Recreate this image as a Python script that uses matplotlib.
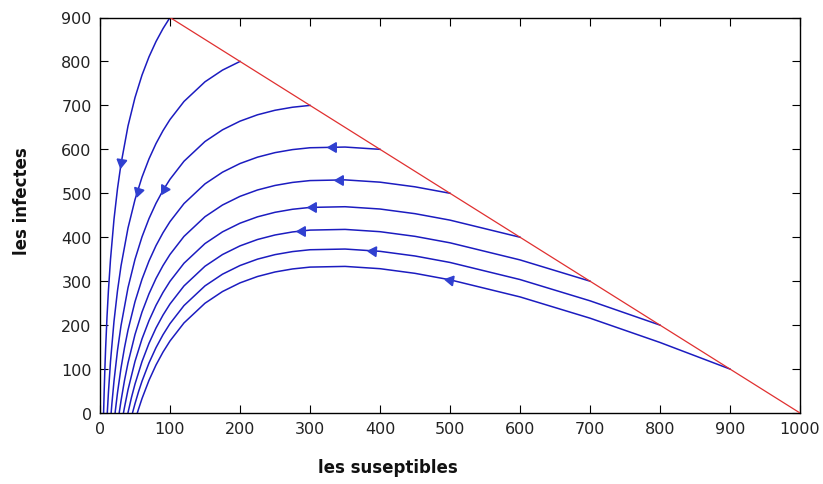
import matplotlib
matplotlib.use("Agg")
import matplotlib.pyplot as plt

# Trajectories (susceptibles S, infectes I)
S_900 = [900, 800, 700, 600, 500, 450, 400, 350, 300, 275, 250, 225, 200, 175, 150, 120, 100, 90, 80, 70, 60, 55, 53.3]
I_900 = [100, 160.5, 215.8, 264.2, 303.1, 317.8, 328.4, 333.6, 332.0, 327.8, 320.9, 310.6, 296.1, 276.4, 249.8, 205.0, 163.9, 138.6, 109.2, 74.4, 32.8, 8.7, 0]

S_800 = [800, 700, 600, 500, 450, 400, 350, 300, 275, 250, 225, 200, 175, 150, 120, 100, 90, 80, 70, 60, 55, 50, 46.4]
I_800 = [200, 255.3, 303.7, 342.6, 357.3, 367.9, 373.1, 371.5, 367.3, 360.4, 350.1, 335.6, 315.9, 289.3, 244.5, 203.4, 178.1, 148.7, 113.9, 72.3, 48.2, 21.2, 0]

S_700 = [700, 600, 500, 450, 400, 350, 300, 275, 250, 225, 200, 175, 150, 120, 100, 90, 80, 70, 60, 50, 45, 39.9]
I_700 = [300, 348.4, 387.3, 402.0, 412.6, 417.8, 416.2, 412.0, 405.1, 394.8, 380.3, 360.6, 334.0, 289.2, 248.1, 222.8, 193.4, 158.6, 117.0, 65.9, 35.6, 0]

S_600 = [600, 500, 450, 400, 350, 300, 275, 250, 225, 200, 175, 150, 120, 100, 90, 80, 70, 60, 50, 40, 35, 33.5]
I_600 = [400, 438.9, 453.6, 464.2, 469.4, 467.8, 463.6, 456.7, 446.4, 431.9, 412.2, 385.6, 340.8, 299.7, 274.4, 245.0, 210.2, 168.6, 117.5, 52.8, 13.0, 0]

S_500 = [500, 450, 400, 350, 300, 275, 250, 225, 200, 175, 150, 120, 100, 90, 80, 70, 60, 50, 40, 35, 30, 27.4]
I_500 = [500, 514.7, 525.3, 530.5, 528.9, 524.7, 517.8, 507.5, 493.0, 473.3, 446.7, 401.9, 360.8, 335.5, 306.1, 271.3, 229.7, 178.6, 113.9, 74.1, 27.5, 0]

S_400 = [400, 350, 300, 275, 250, 225, 200, 175, 150, 120, 100, 90, 80, 70, 60, 50, 40, 35, 30, 25, 22, 21.6]
I_400 = [600, 605.2, 603.6, 599.4, 592.5, 582.2, 567.7, 548.0, 521.4, 476.6, 435.5, 410.2, 380.8, 346.0, 304.4, 253.3, 188.6, 148.8, 102.2, 46.1, 6.3, 0]

S_300 = [300, 275, 250, 225, 200, 175, 150, 120, 100, 90, 80, 70, 60, 50, 40, 30, 25, 20, 17, 15.9]
I_300 = [700, 695.8, 688.9, 678.6, 664.1, 644.4, 617.8, 573.0, 531.9, 506.6, 477.2, 442.4, 400.8, 349.7, 285.0, 198.6, 142.5, 72.8, 21.3, 0]

S_200 = [200, 175, 150, 120, 100, 90, 80, 70, 60, 50, 40, 30, 25, 20, 15, 12, 10.4]
I_200 = [800, 780.3, 753.7, 708.9, 667.8, 642.5, 613.1, 578.3, 536.7, 485.6, 420.9, 334.5, 278.4, 208.7, 117.3, 45.5, 0]

S_100 = [100, 90, 80, 70, 60, 50, 40, 30, 25, 20, 15, 12, 10, 8, 7, 6, 5.13]
I_100 = [900, 874.7, 845.3, 810.5, 768.9, 717.8, 653.1, 566.7, 510.6, 440.9, 349.5, 277.7, 218.7, 145.9, 102.2, 51.5, 0]

curves = [(S_100, I_100), (S_200, I_200), (S_300, I_300), (S_400, I_400), (S_500, I_500),
          (S_600, I_600), (S_700, I_700), (S_800, I_800), (S_900, I_900)]

# Direction arrows (position and pointing angle)
arrow_S = [30, 54, 91, 333, 343, 304, 288, 390, 500]
arrow_I = [572, 505, 510, 605, 530, 468, 414, 369, 302]
arrow_angle = [171, 163, 150, 90, 90, 90, 90, 86, 80]

# Boundary line S + I = 1000
line_S = [100, 1000]
line_I = [900, 0]

x_ticks = [0, 100, 200, 300, 400, 500, 600, 700, 800, 900, 1000]
y_ticks = [0, 100, 200, 300, 400, 500, 600, 700, 800, 900]

blue = "#1c1cc0"

fig = plt.figure(figsize=(8.23, 4.85), dpi=100)
ax = fig.add_axes([100 / 823, (485 - 414) / 485, 700 / 823, 395.5 / 485])

for s, i in curves:
    ax.plot(s, i, color=blue, lw=1.1, zorder=2)

ax.plot(line_S, line_I, color="#e03030", lw=0.9, zorder=3)

for s, i, a in zip(arrow_S, arrow_I, arrow_angle):
    ax.plot([s], [i], marker=(3, 0, a), markersize=8, color="#3040d0",
            markeredgecolor="#3040d0", zorder=4)

ax.set_xlim(0, 1000)
ax.set_ylim(0, 900)
ax.set_xticks(x_ticks)
ax.set_yticks(y_ticks)
ax.tick_params(direction="in", length=6, width=0.8, top=True, right=True,
               labelsize=11.5, labelcolor="#222222", pad=6)
for sp in ax.spines.values():
    sp.set_linewidth(1.0)

fig.text(388 / 823, 1 - 468 / 485, "les suseptibles", ha="center", va="center",
         fontsize=12, fontweight="bold", color="#111111")
fig.text(22 / 823, 1 - 201 / 485, "les infectes", ha="center", va="center",
         fontsize=12, fontweight="bold", rotation=90, color="#111111")

fig.savefig("out.png", dpi=100)
